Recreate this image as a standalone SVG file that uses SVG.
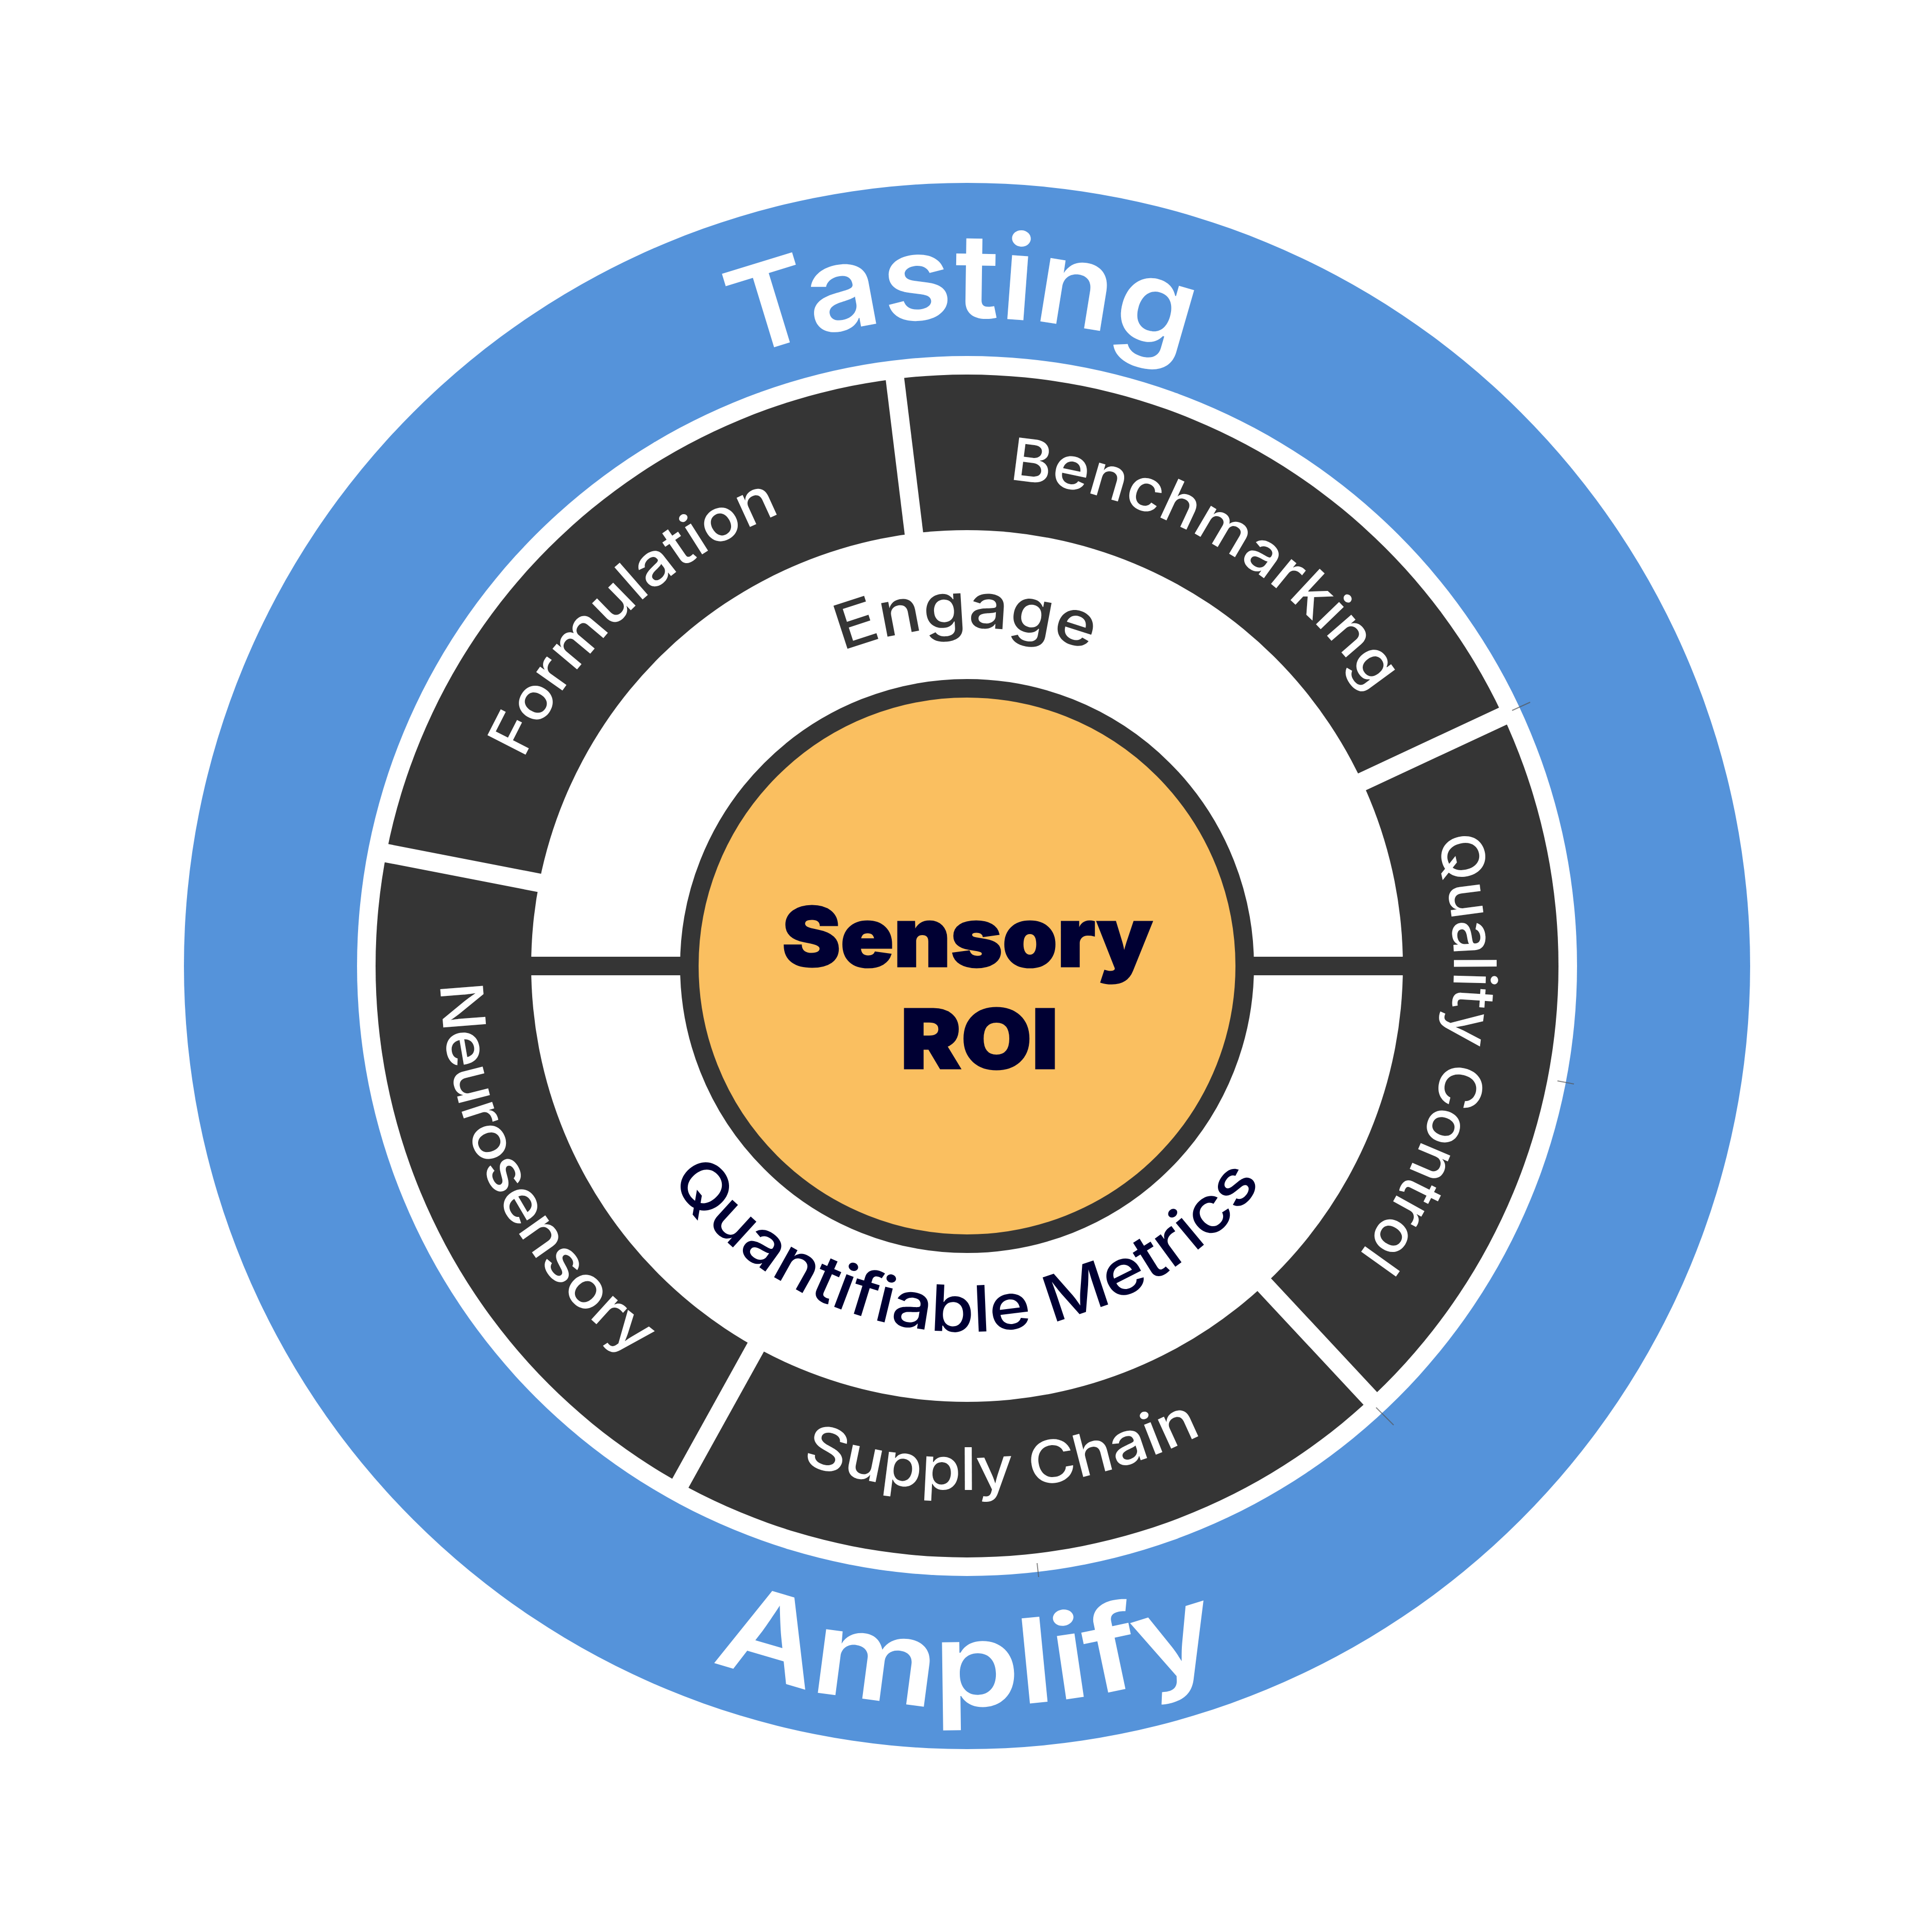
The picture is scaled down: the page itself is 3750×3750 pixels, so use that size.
<svg xmlns="http://www.w3.org/2000/svg" width="3750" height="3750" viewBox="0 0 3750 3750">
<style>
text{font-family:"Inter","Liberation Sans",sans-serif;font-weight:600}
.w{fill:#fff}
.sep{stroke:#fff;stroke-width:36;fill:none}
.bar{stroke:#353535;stroke-width:36;fill:none}
.hair{stroke:#555;stroke-width:2;opacity:.7;fill:none}
.seg{font-size:114px;font-weight:500}
.big{font-size:228px}
.core{font-size:160px;font-weight:900;fill:#000033;stroke:#000033;stroke-width:3px}
</style>
<defs>
<path id="pTasting" d="M1441 695A1258 1258 0 0 1 2409 735"/>
<path id="pAmplify" d="M1381 3223A1436 1436 0 0 0 2507 3166"/>
<path id="pEngage" d="M1635 1264A657 657 0 0 1 2185 1295"/>
<path id="pQuant" d="M1301 2290A710 710 0 0 0 2492 2230"/>
<path id="pBench" d="M1958 931A948 948 0 0 1 2714 1430"/>
<path id="pQual" d="M2789 1627A945 945 0 0 1 2545 2543"/>
<path id="pSupply" d="M1556 2840A1017 1017 0 0 0 2416 2737"/>
<path id="pNeuro" d="M855 1910A930 930 0 0 0 1343 2702"/>
<path id="pForm" d="M1016 1474A950 950 0 0 1 1631 957"/>
</defs>
<rect width="3750" height="3750" fill="#fff"/>
<g id="outer-ring">
<circle cx="1877" cy="1875" r="1520" fill="#5593da"/>
<circle cx="1877" cy="1875" r="1184" fill="#fff"/>
<text class="w big"><textPath href="#pTasting" textLength="875" lengthAdjust="spacingAndGlyphs">Tasting</textPath></text>
<text class="w big"><textPath href="#pAmplify" textLength="1017" lengthAdjust="spacingAndGlyphs">Amplify</textPath></text>
</g>
<g id="segment-ring">
<circle cx="1877" cy="1875" r="1148" fill="#353535"/>
<circle cx="1877" cy="1875" r="846" fill="#fff"/>
</g>
<g id="connectors">
<line class="sep" x1="1877" y1="1045" x2="1877" y2="710" transform="rotate(-7 1877 1875)"/>
<line class="sep" x1="1877" y1="1045" x2="1877" y2="710" transform="rotate(65 1877 1875)"/>
<line class="sep" x1="1877" y1="1045" x2="1877" y2="710" transform="rotate(137 1877 1875)"/>
<line class="sep" x1="1877" y1="1045" x2="1877" y2="710" transform="rotate(209 1877 1875)"/>
<line class="sep" x1="1877" y1="1045" x2="1877" y2="710" transform="rotate(281 1877 1875)"/>
<line class="bar" x1="1030" y1="1875" x2="1340" y2="1875"/>
<line class="bar" x1="2414" y1="1875" x2="2724" y2="1875"/>
<line class="hair" x1="2935" y1="1379" x2="2970" y2="1363"/>
<line class="hair" x1="2671" y1="2732" x2="2705" y2="2766"/>
<line class="hair" x1="2013" y1="3034" x2="2016" y2="3061"/>
<line class="hair" x1="3023" y1="2098" x2="3055" y2="2104"/>
</g>
<g id="benchmarking"><text class="w seg"><textPath href="#pBench" textLength="844" lengthAdjust="spacingAndGlyphs">Benchmarking</textPath></text></g>
<g id="quality-control"><text class="w seg"><textPath href="#pQual" textLength="852" lengthAdjust="spacingAndGlyphs">Quality Control</textPath></text></g>
<g id="supply-chain"><text class="w seg"><textPath href="#pSupply" textLength="800" lengthAdjust="spacingAndGlyphs">Supply Chain</textPath></text></g>
<g id="neurosensory"><text class="w seg"><textPath href="#pNeuro" textLength="846" lengthAdjust="spacingAndGlyphs">Neurosensory</textPath></text></g>
<g id="formulation"><text class="w seg"><textPath href="#pForm" textLength="708" lengthAdjust="spacingAndGlyphs">Formulation</textPath></text></g>
<g id="engage"><text font-size="121" fill="#353535" font-weight="500" style="font-weight:500"><textPath href="#pEngage" textLength="491" lengthAdjust="spacingAndGlyphs">Engage</textPath></text></g>
<g id="quantifiable-metrics"><text font-size="124" fill="#000033" style="font-weight:500"><textPath href="#pQuant" textLength="1336" lengthAdjust="spacingAndGlyphs">Quantifiable Metrics</textPath></text></g>
<g id="sensory-roi">
<circle cx="1877" cy="1875" r="539" fill="#fabf60" stroke="#353535" stroke-width="36"/>
<text class="core" x="1518" y="1876" textLength="719" lengthAdjust="spacingAndGlyphs">Sensory</text>
<text class="core" x="1748" y="2074" textLength="306" lengthAdjust="spacingAndGlyphs">ROI</text>
</g>
</svg>
